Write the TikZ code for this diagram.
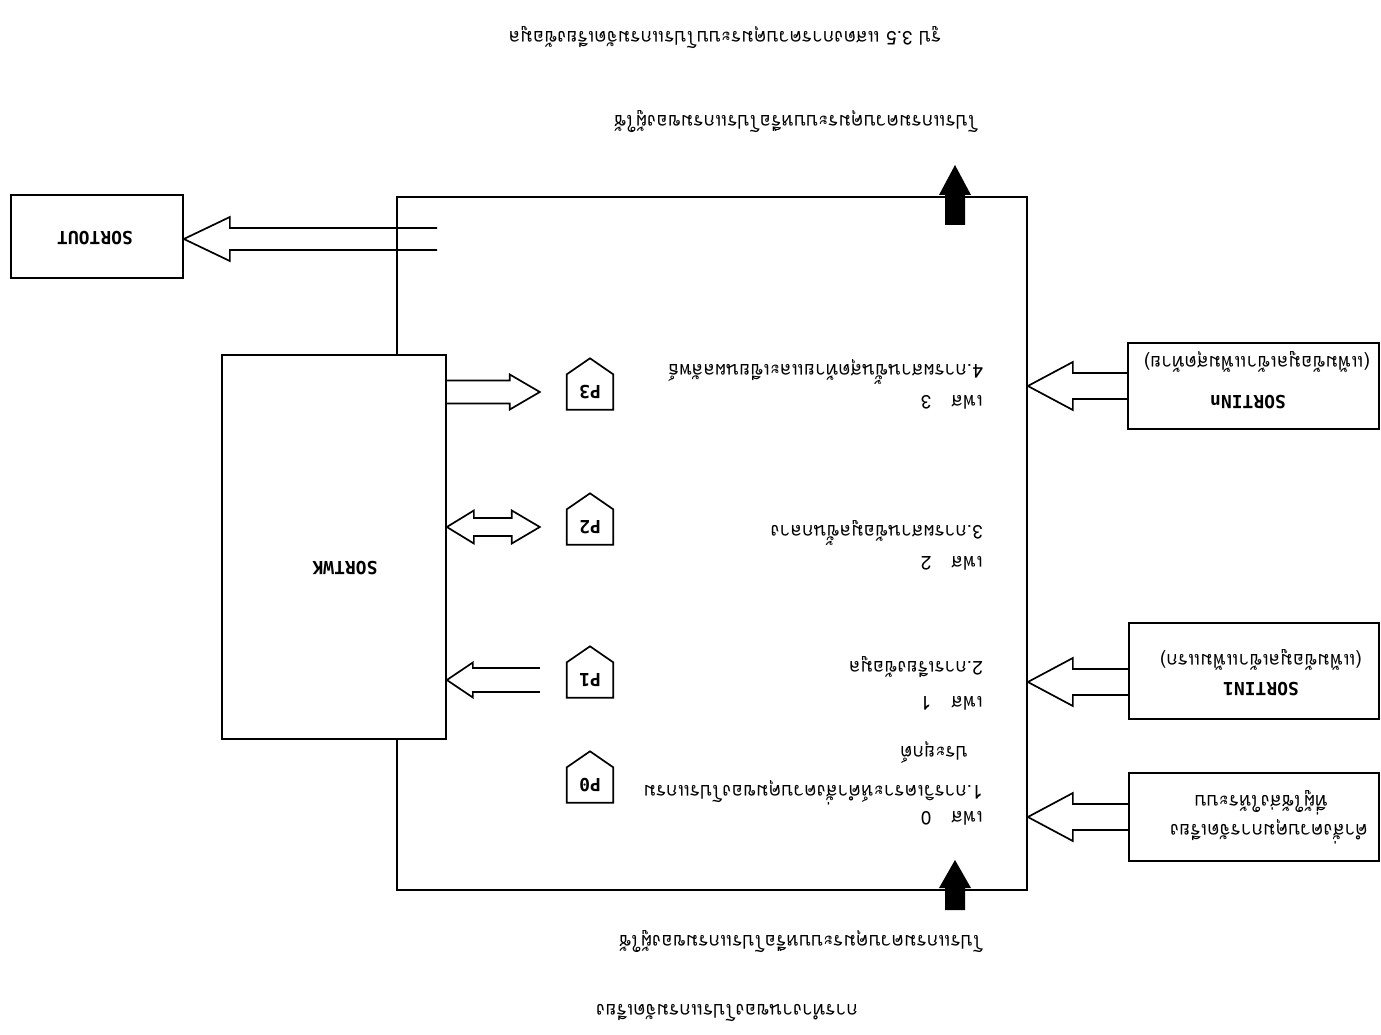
\documentclass[tikz,border=0pt]{standalone}
\usepackage{fontspec}
\usepackage{graphicx}
\usetikzlibrary{calc}
\newfontfamily\thaifont[Script=Thai]{Loma}
\newfontfamily\monofont{DejaVu Sans Mono}
\newcommand\harr[6][]{%
  \draw[hol,#1] ($(#2)+(0,#4)$) -- ($(#3)!#6!(#2)+(0,#4)$) -- ($(#3)!#6!(#2)+(0,#5)$) -- (#3)
   -- ($(#3)!#6!(#2)+(0,-#5)$) -- ($(#3)!#6!(#2)+(0,-#4)$) -- ($(#2)+(0,-#4)$);}
\newcommand\sarr[5]{%
  \fill[black] ($(#1)+(#3,0)$) -- ($(#2)!#5!(#1)+(#3,0)$) -- ($(#2)!#5!(#1)+(#4,0)$) -- (#2)
   -- ($(#2)!#5!(#1)+(-#4,0)$) -- ($(#2)!#5!(#1)+(-#3,0)$) -- ($(#1)+(-#3,0)$) -- cycle;}
\begin{document}
\begin{tikzpicture}[x=1pt,y=-1pt,
  frame/.style={draw, line width=1.7pt, inner sep=0pt},
  th/.style={rotate=180, inner sep=0pt, font=\thaifont\fontsize{19}{22}\selectfont},
  lt/.style={rotate=180, inner sep=0pt, font=\monofont\bfseries\fontsize{18}{20}\selectfont},
  hol/.style={draw, line width=1.7pt, line join=miter}]
\useasboundingbox (0,0) rectangle (1381,1035);
\fill[white] (0,0) rectangle (1381,1035);

% main process box and files
\node[frame, minimum width=630pt, minimum height=693pt] (main) at (712,543.5) {};
\node[frame, fill=white, minimum width=224pt, minimum height=384pt] (wk) at (334,547) {};
\node[lt] (wkt) at (345,568) {SORTWK};
\node[frame, minimum width=172pt, minimum height=83pt] (out) at (97,236.5) {};
\node[lt] (outt) at (95,238) {SORTOUT};
\node[frame, minimum width=251pt, minimum height=86pt] (sinn) at (1253.5,386) {};
\node[lt] (sinnt) at (1248,402) {SORTINn};
\node[th] (sinnp) at (1257,362) {(แฟ้มข้อมูลเข้าแฟ้มสุดท้าย)};
\node[frame, minimum width=250pt, minimum height=96pt] (sin1) at (1254,671) {};
\node[lt] (sin1t) at (1261,689) {SORTIN1};
\node[th] (sin1p) at (1261,660) {(แฟ้มข้อมูลเข้าแฟ้มแรก)};
\node[frame, minimum width=250pt, minimum height=88pt] (ctl) at (1254,817) {};
\node[th] (ctla) at (1269,832) {คำสั่งควบคุมการจัดเรียง};
\node[th] (ctlb) at (1261,803) {ที่ผู้ใช้ส่งให้ระบบ};

% phase boxes (off-page style pentagons)
\foreach \n/\y in {3/392,2/527,1/680,0/785}{
  \node[minimum width=46pt, minimum height=35pt, inner sep=0pt] (p\n) at (590,\y) {};
  \draw[line width=1.7pt] (p\n.south west) -- (p\n.north west) -- ([yshift=16pt]p\n.north)
     -- (p\n.north east) -- (p\n.south east) -- cycle;
  \node[lt] (p\n t) at (p\n) {P\n};
}

% phase texts
\node[th, anchor=west] (t4) at (983,372) {4.การผสานขั้นสุดท้ายและเขียนผลลัพธ์};
\node[th, anchor=west] (f3) at (983,402) {เฟส\hspace{20pt}3};
\node[th, anchor=west] (t3) at (983,533) {3.การผสานข้อมูลขั้นกลาง};
\node[th, anchor=west] (f2) at (983,563) {เฟส\hspace{20pt}2};
\node[th, anchor=west] (t2) at (983,667) {2.การเรียงข้อมูล};
\node[th, anchor=west] (f1) at (983,703) {เฟส\hspace{20pt}1};
\node[th, anchor=west] (t1b) at (968,752) {ประยุกต์};
\node[th, anchor=west] (t1) at (983,793) {1.การวิเคราะห์คำสั่งควบคุมของโปรแกรม};
\node[th, anchor=west] (f0) at (983,818) {เฟส\hspace{20pt}0};

% outer texts
\node[th] (title) at (725,38) {รูป 3.5 แสดงการควบคุมระบบโปรแกรมจัดเรียงข้อมูล};
\node[th] (lblout) at (796,122) {โปรแกรมควบคุมระบบหรือโปรแกรมของผู้ใช้};
\node[th] (lblin) at (801,942) {โปรแกรมควบคุมระบบหรือโปรแกรมของผู้ใช้};
\node[th] (head) at (727,1013) {การทำงานของโปรแกรมจัดเรียง};

% hollow arrows
\coordinate (a3s) at (wk.east |- p3.center);
\coordinate (a3t) at ([xshift=-27pt]p3.west);
\harr{a3s}{a3t}{11.5}{17.5}{30pt}
\coordinate (a1s) at ([xshift=-27pt]p1.west);
\coordinate (a1t) at (wk.east |- p1.center);
\harr{a1s}{a1t}{12}{17.5}{26pt}
\coordinate (a2l) at (wk.east |- p2.center);
\coordinate (a2r) at ([xshift=-27pt]p2.west);
\draw[hol] (a2l) -- ($(a2l)+(27,-16.5)$) -- ($(a2l)+(27,-9)$) -- ($(a2r)+(-28,-9)$) -- ($(a2r)+(-28,-16.5)$)
  -- (a2r) -- ($(a2r)+(-28,16.5)$) -- ($(a2r)+(-28,9)$) -- ($(a2l)+(27,9)$) -- ($(a2l)+(27,16.5)$) -- cycle;

\coordinate (ns) at (sinn.west);
\coordinate (nt) at (main.east |- sinn.west);
\harr{ns}{nt}{13}{24}{45pt}
\coordinate (os) at ([yshift=-11pt]sin1.west);
\coordinate (ot) at (main.east |- os);
\harr{os}{ot}{13}{24}{45pt}
\coordinate (cs) at (ctl.west);
\coordinate (ct) at (main.east |- ctl.west);
\harr{cs}{ct}{13}{24}{45pt}

\coordinate (sos) at (437,239);
\coordinate (sot) at (out.east |- sos);
\harr{sos}{sot}{11}{22}{46pt}

% control flow (solid) arrows
\coordinate (cin) at (955,910);
\coordinate (cint) at (955,860);
\sarr{cin}{cint}{10}{16}{28pt}
\coordinate (cout) at (955,225);
\coordinate (coutt) at (955,165);
\sarr{cout}{coutt}{10}{16}{30pt}
\end{tikzpicture}
\end{document}
